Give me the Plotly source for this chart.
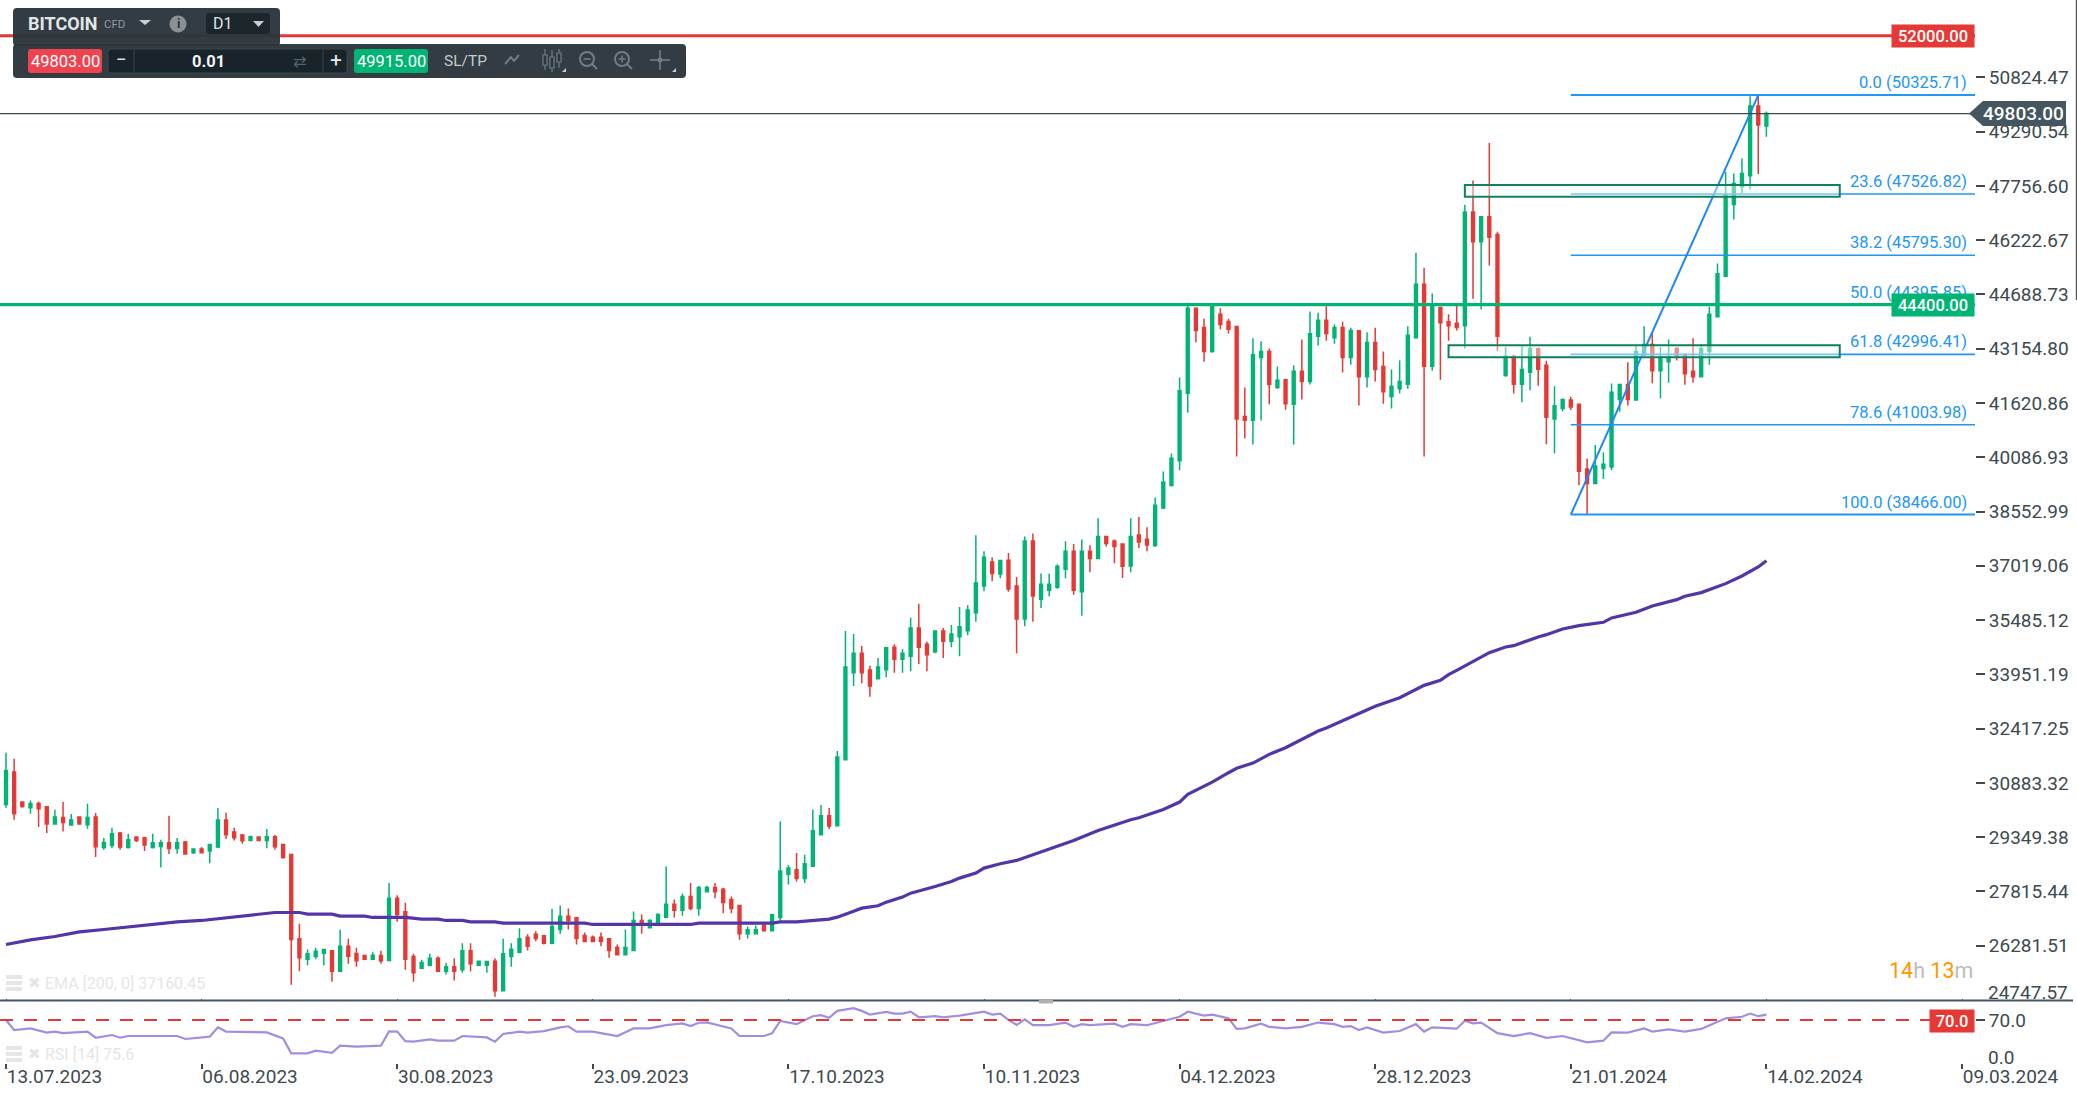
import pandas as pd
import plotly.graph_objects as go

# ---------- data ----------
START = "2023-07-13"
opens = [30274,31189,30340,30180,30303,30208,29718,29907,29690,29916,
29699,29916,29058,29115,29464,29058,29351,29332,29058,29087,
29190,29030,29209,28907,29011,28955,29068,29831,29492,29407,
29256,29351,29256,29360,29143,28860,26475,25900,25976,26070,
26136,25561,26268,26061,26004,25900,26004,25862,27625,27239,
25976,25646,25731,25929,25561,25683,25599,26136,25731,25731,
25844,25005,25976,26098,26522,26607,26560,26353,26739,27116,
27069,26570,26522,26522,26475,26230,26023,26145,26994,26786,
26899,27088,27456,27286,27673,27333,27804,27927,27880,27588,
27418,26617,26617,26862,26701,27079,28304,28427,28181,28530,
29417,29954,29671,31538,33998,34545,34074,33829,34083,34715,
34376,34460,35262,34800,34592,35177,34885,35017,35186,35695,
36449,37128,36789,37175,36449,35516,37722,36072,36327,36412,
36921,37430,36289,37430,37222,37845,37722,37637,37015,37892,
37769,37590,38655,39287,39985,41898,44302,43755,43077,44132,
43925,43784,41238,41135,42907,43077,42058,42275,41587,42520,
42228,43510,43963,43463,43755,42907,43661,42360,43331,42652,
41804,42021,42153,43462,44980,42661,44320,43915,43877,43802,
47017,46177,46884,46385,42397,42944,42152,42492,43152,42690,
41172,41464,41709,41587,39758,39343,39767,39815,41719,42143,
41709,42973,43274,42530,42784,43161,42972,42520,42360,43076,
44056,45207,47233,47733,48044,50014,49448]
highs = [31736,31566,30359,30387,30359,30218,30124,30340,30001,29916,
30293,30029,29322,29614,29492,29445,29360,29360,29445,29275,
29954,29322,29237,29021,29068,29162,30171,30039,29614,29435,
29398,29360,29577,29407,29153,28860,26899,26174,26221,26183,
26145,26730,26475,26221,26013,26098,26136,28050,27710,27493,
26051,25881,26051,25985,25797,25929,26353,26353,25844,25844,
25929,26475,26353,26777,26607,26692,26570,27324,27418,27333,
27079,26654,26570,26654,26485,26315,26739,27248,27163,27031,
27201,28521,27588,27757,28050,27965,27974,28050,27918,27673,
27418,26824,26852,26899,27163,29794,28559,28898,28851,30133,
30256,30171,31783,35177,35092,34753,34197,34413,34715,34800,
34668,35554,35950,34875,35177,35262,35347,35856,35903,37882,
37430,37260,37175,37383,36704,37845,37929,36798,36798,37062,
37713,37637,37760,37600,38363,37863,37760,37647,38363,38401,
38109,38948,39683,40192,42341,44453,44302,44000,44378,44302,
44000,43793,42058,43454,43369,43161,42652,42304,42690,43416,
44208,44170,44359,43840,43916,43746,43671,43623,43746,43077,
42568,42822,43793,45866,45442,44716,44339,44132,44434,47224,
47912,46884,48968,46460,43199,42982,43227,43491,43189,42812,
42096,41747,41794,41596,40050,40437,40229,42171,42143,42775,
43227,43793,43623,43199,43416,43199,43029,43453,43284,44339,
45565,48157,48110,48534,50288,50325,49863]
lows = [30180,29841,30180,30010,29633,29464,29709,29511,29671,29709,
29586,28785,28992,29039,28992,29030,29209,28955,29030,28493,
28870,28879,28860,28870,28898,28615,29039,29294,29256,29162,
29247,29247,29039,28992,28738,25174,25561,25731,25900,25721,
25259,25551,25768,25683,25891,25891,25768,25853,26956,25599,
25259,25636,25721,25551,25467,25297,25514,25561,25721,25514,
24835,24995,25683,26070,26145,26409,26315,26325,26617,26739,
26315,26390,26390,26268,25938,26013,26013,26136,26617,26777,
26890,27079,27079,27126,27286,27126,27795,27625,27201,27201,
26447,26485,26607,26692,26692,26994,28012,28097,28050,28521,
29407,29577,29662,31529,33621,33697,33320,33819,33866,33998,
33998,34036,34244,34036,34545,34413,34715,34460,35054,35441,
36299,36581,36666,36289,34545,35309,35441,35827,36157,36374,
36666,36204,35610,36836,37213,37562,37090,36676,36836,37524,
37430,37552,38627,39259,39721,41342,43341,42784,43039,43708,
43586,40107,40616,40446,41125,41587,42021,41427,40446,41719,
42143,43246,43378,43293,42483,42700,41550,42058,42228,41597,
41465,41889,42021,43454,40107,42529,42275,43378,43670,43161,
44566,44264,45508,43085,42360,41888,41643,41983,42105,40455,
40192,41389,41426,39296,38466,39334,39475,39720,41370,41549,
41681,42973,42181,41756,42190,42822,42134,42190,42350,42699,
44047,45197,46809,47544,47657,48091,49147]
closes = [31236,30010,30218,30303,30152,29718,29916,29765,29831,29718,
29907,29077,29200,29445,29068,29275,29256,29124,29190,29190,
29030,29190,28870,29011,28907,29143,29831,29417,29332,29247,
29360,29256,29360,29077,28775,26456,25938,26051,26126,26174,
25561,26268,25985,25853,25900,26013,25853,27625,27163,25900,
25514,25806,25929,25561,25683,25561,26136,25768,25844,25834,
25005,26051,26183,26475,26268,26485,26353,26824,27116,26994,
26485,26400,26400,26400,26145,26023,26230,26994,26862,26994,
27163,27456,27286,27673,27333,27927,27927,27804,27503,27333,
26617,26730,26730,26701,27154,28389,28474,28181,28596,29530,
29954,29662,31613,34159,34545,33998,33621,34159,34705,34376,
34545,35262,34715,34507,35177,34885,35092,35299,35771,36534,
37260,36798,37166,36365,35516,37722,36167,36497,36497,37006,
37430,36327,37430,37222,37845,37647,37562,37006,37845,37694,
37609,38731,39381,40060,41964,44302,43671,43077,44340,43840,
43708,41172,41135,42982,43077,42143,42266,41597,42520,42228,
43576,43963,43586,43755,42907,43671,42360,43331,42568,41936,
42096,42228,43539,44980,42661,44368,43886,43802,43755,47017,
46177,46884,46309,43510,42944,42152,42567,43152,42577,41219,
41540,41719,41511,39692,39343,39843,39890,41926,42143,41719,
43067,43274,42530,42925,42925,42925,42445,42360,43152,44132,
45273,47497,47827,48110,50014,49477,49803]

ema_bars = [0,3,6,9,12,15,17,20,21,24,26,28,31,33,36,37,40,41,44,45,49,51,53,54,56,57,60,61,71,72,84,85,94,95,97,99,
            100,101,102,103,104,105,107,108,110,111,113,114,116,117,119,120,122,124,131,134,138,139,142,144,145,148,150,
            151,153,155,157,159,161,162,164,166,168,171,173,174,176,177,178,180,182,184,185,188,189,191,193,196,197,200,
            202,205,206,208,211,213,215,216]
ema_vals = [26315,26447,26541,26673,26739,26805,26871,26918,26956,26994,27041,27088,27173,27220,27220,27173,27173,27116,27116,27079,27079,27031,27031,26994,26994,26956,26956,26918,26918,26881,26881,26918,26918,26956,26956,26994,
            27013,27031,27088,27182,27258,27343,27409,27512,27654,27767,27889,27955,28097,28191,28332,28474,28596,28691,29257,29540,29841,29898,30133,30341,30558,30906,31170,
            31295,31444,31689,31877,32113,32349,32434,32641,32858,33046,33291,33518,33640,33782,33942,34064,34319,34564,34724,34762,35007,35073,35233,35328,35422,35545,35705,
            35884,36063,36157,36261,36515,36732,36987,37160]

rsi_bars = [0,1,3,5,6,7,10,11,13,14,15,19,21,22,25,26,27,32,34,35,37,38,40,41,43,46,47,48,49,50,52,53,55,56,59,60,61,63,64,66,68,69,70,72,74,75,77,79,81,83,84,85,86,88,89,90,93,94,95,
            97,99,100,101,102,104,105,106,108,109,110,111,112,114,115,117,120,121,122,123,124,125,126,128,130,131,132,133,136,137,138,140,142,144,145,147,148,150,151,152,154,155,157,159,161,163,164,165,166,167,169,171,173,174,175,178,179,180,181,
            183,185,187,189,191,194,196,197,199,201,202,204,206,208,211,213,214,215,216]
rsi_vals = [69.8,51,54,46,48,45,48,36.4,41.5,36.4,39.6,39.6,39.6,34,38.3,56,48,46.5,35,7,7,12,8,21.3,19.5,21.3,48.4,48,30,29,33.3,30.8,30.8,39.6,37,29,43.4,48,46,49,56,58,48,48,43,39.6,54,54,60.3,63.5,58.5,64.7,65.4,57,54,39.6,39.6,44.6,68,
            62,77,79,74,87,92,87,80,85,82,82,85.5,75,77,75,78,85.5,80,82,70,60.3,71,60,60,65,57,62,60,63,57,62,60,68,76,85.5,78,80,73,53,54,63,57,54,57,65,62,57,58.4,51,56,46,49,62,48,56,53.4,68.5,63.5,65,
            45,39.6,45,36,39.6,27.6,30.8,46.5,46,54,48,52,48,53,73,76,82,77,80]

price_ticks = [50824.47,49290.54,47756.60,46222.67,44688.73,43154.80,41620.86,40086.93,38552.99,37019.06,35485.12,33951.19,32417.25,30883.32,29349.38,27815.44,26281.51]
date_ticks = ["2023-07-13","2023-08-06","2023-08-30","2023-09-23","2023-10-17","2023-11-10","2023-12-04","2023-12-28","2024-01-21","2024-02-14","2024-03-09"]
fib_levels = [0.0,23.6,38.2,50.0,61.8,78.6,100.0]
fib_prices = [50325.71,47526.82,45795.30,44395.85,42996.41,41003.98,38466.00]
level_red = 52000.00
level_green = 44400.00
last_price = 49803.00
ask_price = 49915.00
rsi_level = 70.0

# ---------- style ----------
W, H = 2077, 1096
PLOT_R = 1975
MAIN_B = 1000.5
GREEN, RED, BLUE = "#00b474", "#e53935", "#2196f3"
TXT = "#3d4a50"
FONT = "Roboto"

def px(x): return x / W
def py(y): return 1 - y / H

dates = pd.date_range(START, periods=len(opens), freq="D")
t0 = pd.Timestamp(START)
x_left = t0 + pd.Timedelta(days=-6 / 8.15)
x_right = t0 + pd.Timedelta(days=(PLOT_R - 6) / 8.15)

fig = go.Figure()
fig.add_trace(go.Candlestick(
    x=dates, open=opens, high=highs, low=lows, close=closes, xaxis="x", yaxis="y",
    increasing=dict(line=dict(color=GREEN, width=1.5), fillcolor=GREEN),
    decreasing=dict(line=dict(color=RED, width=1.5), fillcolor=RED),
    whiskerwidth=0, hoverinfo="skip", showlegend=False))
fig.add_trace(go.Scatter(x=dates[ema_bars], y=ema_vals, mode="lines", xaxis="x", yaxis="y",
                         line=dict(color="#5335a8", width=3.2), hoverinfo="skip", showlegend=False))
fig.add_trace(go.Scatter(x=dates[rsi_bars], y=rsi_vals, mode="lines", xaxis="x2", yaxis="y2",
                         line=dict(color="#a48dde", width=2.2), hoverinfo="skip", showlegend=False))

shapes, ann = [], []

def pline(x0, y0, x1, y1, color, w=1.5, dash=None):
    shapes.append(dict(type="line", xref="paper", yref="paper", x0=px(x0), x1=px(x1), y0=py(y0), y1=py(y1),
                       line=dict(color=color, width=w, dash=dash), layer="above"))

def prect(x0, y0, x1, y1, fill, line=None, lw=0, r=0):
    if r:
        p = (f"M {px(x0+r)} {py(y0)} L {px(x1-r)} {py(y0)} Q {px(x1)} {py(y0)} {px(x1)} {py(y0+r)} "
             f"L {px(x1)} {py(y1-r)} Q {px(x1)} {py(y1)} {px(x1-r)} {py(y1)} L {px(x0+r)} {py(y1)} "
             f"Q {px(x0)} {py(y1)} {px(x0)} {py(y1-r)} L {px(x0)} {py(y0+r)} Q {px(x0)} {py(y0)} {px(x0+r)} {py(y0)} Z")
        shapes.append(dict(type="path", xref="paper", yref="paper", path=p, fillcolor=fill,
                           line=dict(color=line or fill, width=lw), layer="above"))
    else:
        shapes.append(dict(type="rect", xref="paper", yref="paper", x0=px(x0), x1=px(x1), y0=py(y0), y1=py(y1),
                           fillcolor=fill, line=dict(color=line or fill, width=lw), layer="above"))

def ppoly(points, fill=None, color=None, w=0, close=True):
    p = "M " + " L ".join(f"{px(a)} {py(b)}" for a, b in points) + (" Z" if close else "")
    shapes.append(dict(type="path", xref="paper", yref="paper", path=p, fillcolor=fill or "rgba(0,0,0,0)",
                       line=dict(color=color or "rgba(0,0,0,0)", width=w), layer="above"))

def pcirc(cx, cy, r, fill=None, color=None, w=0):
    shapes.append(dict(type="circle", xref="paper", yref="paper", x0=px(cx-r), x1=px(cx+r), y0=py(cy+r), y1=py(cy-r),
                       fillcolor=fill or "rgba(0,0,0,0)", line=dict(color=color or "rgba(0,0,0,0)", width=w), layer="above"))

def txt(x, y, s, size, color, anchor="left", family=FONT):
    ann.append(dict(xref="paper", yref="paper", x=px(x), y=py(y), text=s, showarrow=False, xanchor=anchor, yanchor="middle",
                    font=dict(family=family, size=size, color=color), borderpad=0))

# fib lines, trend line, zones
for k, p in enumerate(fib_prices):
    w = 2 if k in (0, 6) else 1.6
    shapes.append(dict(type="line", xref="x", yref="y", x0="2024-01-21", x1=x_right, y0=p, y1=p,
                       line=dict(color=BLUE, width=w), layer="above"))
    ann.append(dict(xref="paper", yref="y", x=px(1968), y=p, yanchor="bottom", xanchor="right", yshift=2, borderpad=0,
                    text=f"{fib_levels[k]:.1f} ({p:.2f})", showarrow=False, font=dict(family=FONT, size=16.5, color=BLUE)))
shapes.append(dict(type="line", xref="x", yref="y", x0="2024-01-21", x1="2024-02-13", y0=fib_prices[6], y1=fib_prices[0],
                   line=dict(color="#1e88f0", width=2), layer="above"))
for x0, lo, hi in [("2024-01-08", 47449, 47780), ("2024-01-06", 42916, 43255)]:
    shapes.append(dict(type="rect", xref="x", yref="y", x0=x0, x1="2024-02-23", y0=lo, y1=hi,
                       fillcolor="rgba(240,252,248,0.45)", line=dict(color="#127f5e", width=2), layer="above"))

# horizontal levels
for p, col, w in [(level_red, RED, 3), (level_green, GREEN, 3.2), (last_price, "#3c4a52", 1.2)]:
    shapes.append(dict(type="line", xref="paper", yref="y", x0=0, x1=px(PLOT_R if p != last_price else 1970), y0=p, y1=p,
                       line=dict(color=col, width=w), layer="above"))

# boxes on the right
def box(y_val, col, s):
    ann.append(dict(xref="paper", yref="y", x=px(PLOT_R), y=y_val, xanchor="right", yanchor="middle", text=s, showarrow=False,
                    font=dict(family=FONT, size=16.5, color="white", weight=500), bgcolor=col, width=82, height=22, borderpad=0))
box(level_red, RED, f"{level_red:.2f}")
box(level_green, GREEN, f"{level_green:.2f}")

# last-price tag
shapes.append(dict(type="path", xref="paper", yref="paper",
                   path=f"M {px(1969)} {py(113.5)} L {px(1983)} {py(101)} L {px(2066)} {py(101)} L {px(2066)} {py(126)} L {px(1983)} {py(126)} Z",
                   fillcolor="#455660", line=dict(width=0), layer="above"))
ann.append(dict(xref="paper", yref="paper", x=px(2065), y=py(113.5), xanchor="right", yanchor="middle", text=f"{last_price:.2f}",
                showarrow=False, font=dict(family=FONT, size=19, color="white", weight=500), borderpad=0))

# bottom-of-axis labels and separator
txt(1987, 992, "24747.57", 19, TXT)
txt(1987, 1057, "0.0", 19, TXT)
pline(0, MAIN_B, 2073, MAIN_B, "#455660", 2.2)
prect(1039, 1000, 1053, 1003.5, "#b0b0b0")

# RSI level
shapes.append(dict(type="line", xref="paper", yref="y2", x0=0, x1=px(1931), y0=rsi_level, y1=rsi_level,
                   line=dict(color=RED, width=2, dash="13px,11px"), layer="above"))
ann.append(dict(xref="paper", yref="paper", x=px(PLOT_R), y=py(1021), xanchor="right", yanchor="middle", text=f"{rsi_level:.1f}", showarrow=False,
                font=dict(family=FONT, size=16.5, color="white", weight=500), bgcolor=RED, width=44, height=22, borderpad=0))

# countdown
ann.append(dict(xref="paper", yref="paper", x=px(1974), y=py(970), xanchor="right", yanchor="middle", showarrow=False, borderpad=0,
                text='<span style="color:#ff9800">14</span>h <span style="color:#ff9800">13</span>m',
                font=dict(family=FONT, size=21.5, color="#bdbdbd")))

# faint indicator captions
FAINT = "#e6e6e6"
for yc, s in [(983, "EMA [200, 0] 37160.45"), (1054, "RSI [14] 75.6")]:
    for dy in (-6, 0, 6):
        prect(6, yc + dy - 2, 22, yc + dy + 2, FAINT)
    txt(27, yc, "✖", 15, FAINT, family="DejaVu Sans")
    txt(44, yc, s, 16, FAINT)

# ---------- toolbar ----------
PANEL = "rgba(43,54,60,0.97)"
prect(13, 8, 280, 46, PANEL, r=4)
prect(13, 44, 686, 78, PANEL, r=4)
prect(206, 13, 270, 34, "#1c262b", r=3)
txt(27, 24, "<b>BITCOIN</b>", 18, "#e2e5e6")
txt(103, 24, "CFD", 11.5, "#8c9aa2")
ppoly([(139, 20), (151, 20), (145, 25)], fill="#c9ced1")
pcirc(178, 24, 8.5, fill="#8b9093")
txt(178, 24, "<b>i</b>", 13, "#2b363c", "center")
txt(212, 24, "D1", 16, "#dfe3e5")
ppoly([(253, 21), (264, 21), (258.5, 27)], fill="#c9ced1")
prect(28, 49, 102, 73, "#f0434f", r=3)
txt(65, 61, "49803.00", 16.5, "white", "center")
prect(108, 49, 347, 73, "#18232a", line="#3a464c", lw=1, r=3)
pline(134, 49, 134, 73, "#3a464c", 1)
pline(323, 49, 323, 73, "#3a464c", 1)
txt(121, 60, "−", 19, "#dfe3e5", "center")
txt(208, 61, "<b>0.01</b>", 16.5, "#f2f4f5", "center")
txt(299, 61, "⇄", 16, "#55636a", "center", family="DejaVu Sans")
txt(336, 60, "+", 21, "#e8ebec", "center")
prect(354, 49, 428, 73, GREEN, r=3)
txt(391, 61, f"{ask_price:.2f}", 16.5, "white", "center")
txt(443, 61, "SL/TP", 15.5, "#c3cbcf")
ICON = "#6f7e86"
ppoly([(505, 64), (511, 57), (514, 61), (519, 55)], color=ICON, w=2, close=False)
for xc, yt, yb, a, b in [(545, 49, 70, 55, 65), (552, 50, 72, 57, 68), (559, 49, 68, 53, 62)]:
    pline(xc, yt, xc, yb, ICON, 1.2)
    prect(xc - 2, a, xc + 2, b, "#2b363c", line=ICON, lw=1.2)
ppoly([(562, 72), (566, 72), (566, 68)], fill="#c9ced1")
for cx, plus in [(587, False), (622, True)]:
    pcirc(cx, 59, 7, color=ICON, w=2)
    pline(cx + 5, 64, cx + 10, 69, ICON, 2)
    pline(cx - 3.5, 59, cx + 3.5, 59, ICON, 1.6)
    if plus:
        pline(cx, 55.5, cx, 62.5, ICON, 1.6)
pline(650, 60, 670, 60, ICON, 1.6)
pline(660, 50, 660, 70, ICON, 1.6)
pcirc(660, 60, 2.5, fill=ICON)
ppoly([(672, 72), (676, 72), (676, 68)], fill="#c9ced1")

# right edge
pline(2076.3, 0, 2076.3, 300, "#333333", 1)

# ---------- axes ----------
dom_x = [0, px(PLOT_R)]
tick = dict(family=FONT, size=19, color=TXT)
fig.update_layout(
    width=W, height=H, autosize=False, margin=dict(l=0, r=0, t=0, b=0, pad=0, autoexpand=False),
    paper_bgcolor="white", plot_bgcolor="white", showlegend=False, boxgap=0.5, font=dict(family=FONT),
    xaxis=dict(domain=dom_x, range=[x_left, x_right], type="date", rangeslider=dict(visible=False), anchor="y",
               showgrid=False, zeroline=False, showline=False, tickvals=date_ticks, ticks="inside", ticklen=2,
               tickcolor="#455660", showticklabels=False, fixedrange=True),
    yaxis=dict(domain=[py(MAIN_B), 1], range=[24732, 53012], side="right", anchor="x", showgrid=False, zeroline=False,
               showline=False, tickvals=price_ticks, tickformat=".2f", ticks="outside", ticklen=9, tickwidth=1.5,
               tickcolor=TXT, tickfont=tick, fixedrange=True),
    xaxis2=dict(domain=dom_x, range=[x_left, x_right], type="date", anchor="y2", matches="x", showgrid=False, zeroline=False,
                showline=False, tickvals=date_ticks, tickformat="%d.%m.%Y", ticks="outside", ticklen=5, tickwidth=1.5,
                tickcolor=TXT, tickfont=tick, ticklabelposition="outside right", ticklabelstandoff=-4, fixedrange=True),
    yaxis2=dict(domain=[py(1063), py(1002)], range=[-11.3, 103.8], side="right", anchor="x2", showgrid=False, zeroline=False,
                showline=False, tickvals=[70], tickformat=".1f", ticks="outside", ticklen=9, tickwidth=1.5,
                tickcolor=TXT, tickfont=tick, fixedrange=True),
    shapes=shapes, annotations=ann,
)
post = "document.documentElement.style.overflow='hidden';document.body.style.margin='0';document.body.style.overflow='hidden';"
fig.write_html("out.html", config=dict(displayModeBar=False), post_script=post)
